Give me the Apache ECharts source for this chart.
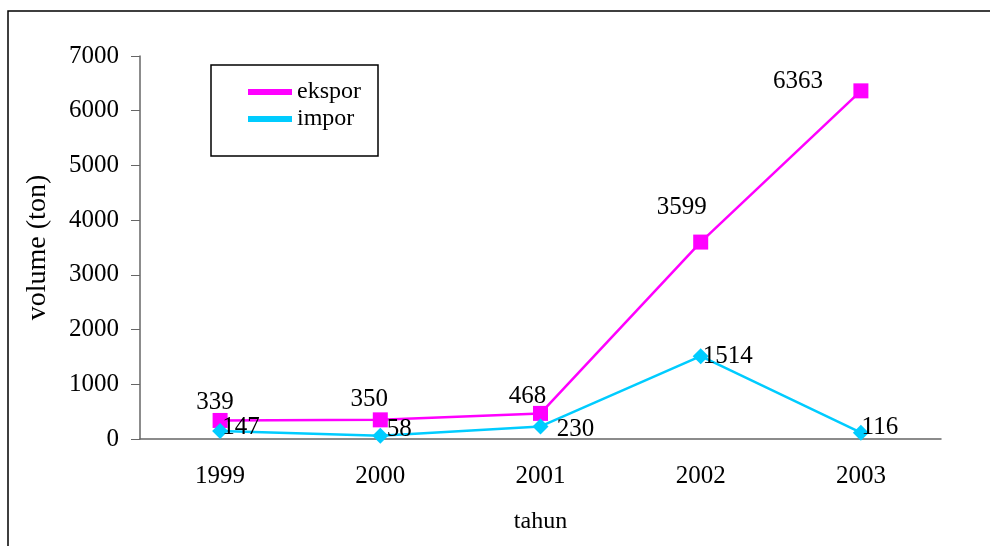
<!DOCTYPE html>
<html>
<head>
<meta charset="utf-8">
<script src="https://cdn.jsdelivr.net/npm/echarts@6/dist/echarts.min.js"></script>
<style>
  html, body { margin: 0; padding: 0; background: #fff; }
  #main { width: 990px; height: 546px; }
</style>
</head>
<body>
<div id="main"></div>
<script>
const years = ['1999', '2000', '2001', '2002', '2003'];
const ekspor = [339, 350, 468, 3599, 6363];
const impor = [147, 58, 230, 1514, 116];

// label nudges (px) so the numbers sit where the original put them
const eksporLabelShift = [[-5, -18], [-11, -20], [-13, -17], [-19, -35], [-63, -9]];
const imporLabelShift = [[21, -4], [19, -6], [35, 3], [27, 0], [19, -5]];

const font = 'Liberation Serif';
const chart = echarts.init(document.getElementById('main'));

function withLabels(values, shifts) {
  return values.map((v, i) => ({
    value: v,
    label: { offset: shifts[i] }
  }));
}

const labelStyle = {
  show: true,
  position: 'inside',
  color: '#000',
  fontFamily: font,
  fontSize: 25
};

const option = {
  animation: false,
  backgroundColor: '#fff',
  grid: { left: 140, right: 49, top: 56, bottom: 107 },
  legend: {
    left: 248,
    top: 79,
    orient: 'vertical',
    padding: 0,
    itemGap: 1,
    itemWidth: 44,
    itemHeight: 6,
    icon: 'rect',
    textStyle: { fontFamily: font, fontSize: 24, color: '#000', lineHeight: 26 },
    data: ['ekspor', 'impor']
  },
  graphic: [
    {
      type: 'rect',
      shape: { x: 211, y: 65, width: 167, height: 91 },
      style: { fill: 'none', stroke: '#000', lineWidth: 1.5 },
      z: 10
    },
    {
      type: 'polyline',
      shape: { points: [[8, 600], [8, 11], [1000, 11]] },
      style: { fill: 'none', stroke: '#000', lineWidth: 1.5 }
    }
  ],
  xAxis: {
    type: 'category',
    data: years,
    boundaryGap: true,
    name: 'tahun',
    nameLocation: 'middle',
    nameGap: 71,
    nameTextStyle: { fontFamily: font, fontSize: 24, color: '#000' },
    axisLine: { lineStyle: { color: '#666', width: 1.5 } },
    axisTick: { length: 7, lineStyle: { color: '#666' } },
    axisLabel: { fontFamily: font, fontSize: 25, color: '#000', margin: 25 }
  },
  yAxis: {
    type: 'value',
    min: 0,
    max: 7000,
    interval: 1000,
    name: 'volume (ton)',
    nameLocation: 'middle',
    nameGap: 88,
    nameTextStyle: { fontFamily: font, fontSize: 28, color: '#000' },
    axisLine: { show: true, lineStyle: { color: '#666', width: 1.5 } },
    axisTick: { show: true, length: 9, lineStyle: { color: '#666' } },
    splitLine: { show: false },
    axisLabel: {
      fontFamily: font, fontSize: 25, color: '#000', margin: 21,
      formatter: v => String(v)
    }
  },
  series: [
    {
      name: 'ekspor',
      type: 'line',
      data: withLabels(ekspor, eksporLabelShift),
      symbol: 'rect',
      symbolSize: 15,
      itemStyle: { color: '#ff00ff' },
      lineStyle: { color: '#ff00ff', width: 2.5 },
      label: labelStyle,
      z: 3
    },
    {
      name: 'impor',
      type: 'line',
      data: withLabels(impor, imporLabelShift),
      symbol: 'diamond',
      symbolSize: 16,
      itemStyle: { color: '#00ccff' },
      lineStyle: { color: '#00ccff', width: 2.5 },
      label: labelStyle,
      z: 4
    }
  ]
};

chart.setOption(option);
</script>
</body>
</html>
